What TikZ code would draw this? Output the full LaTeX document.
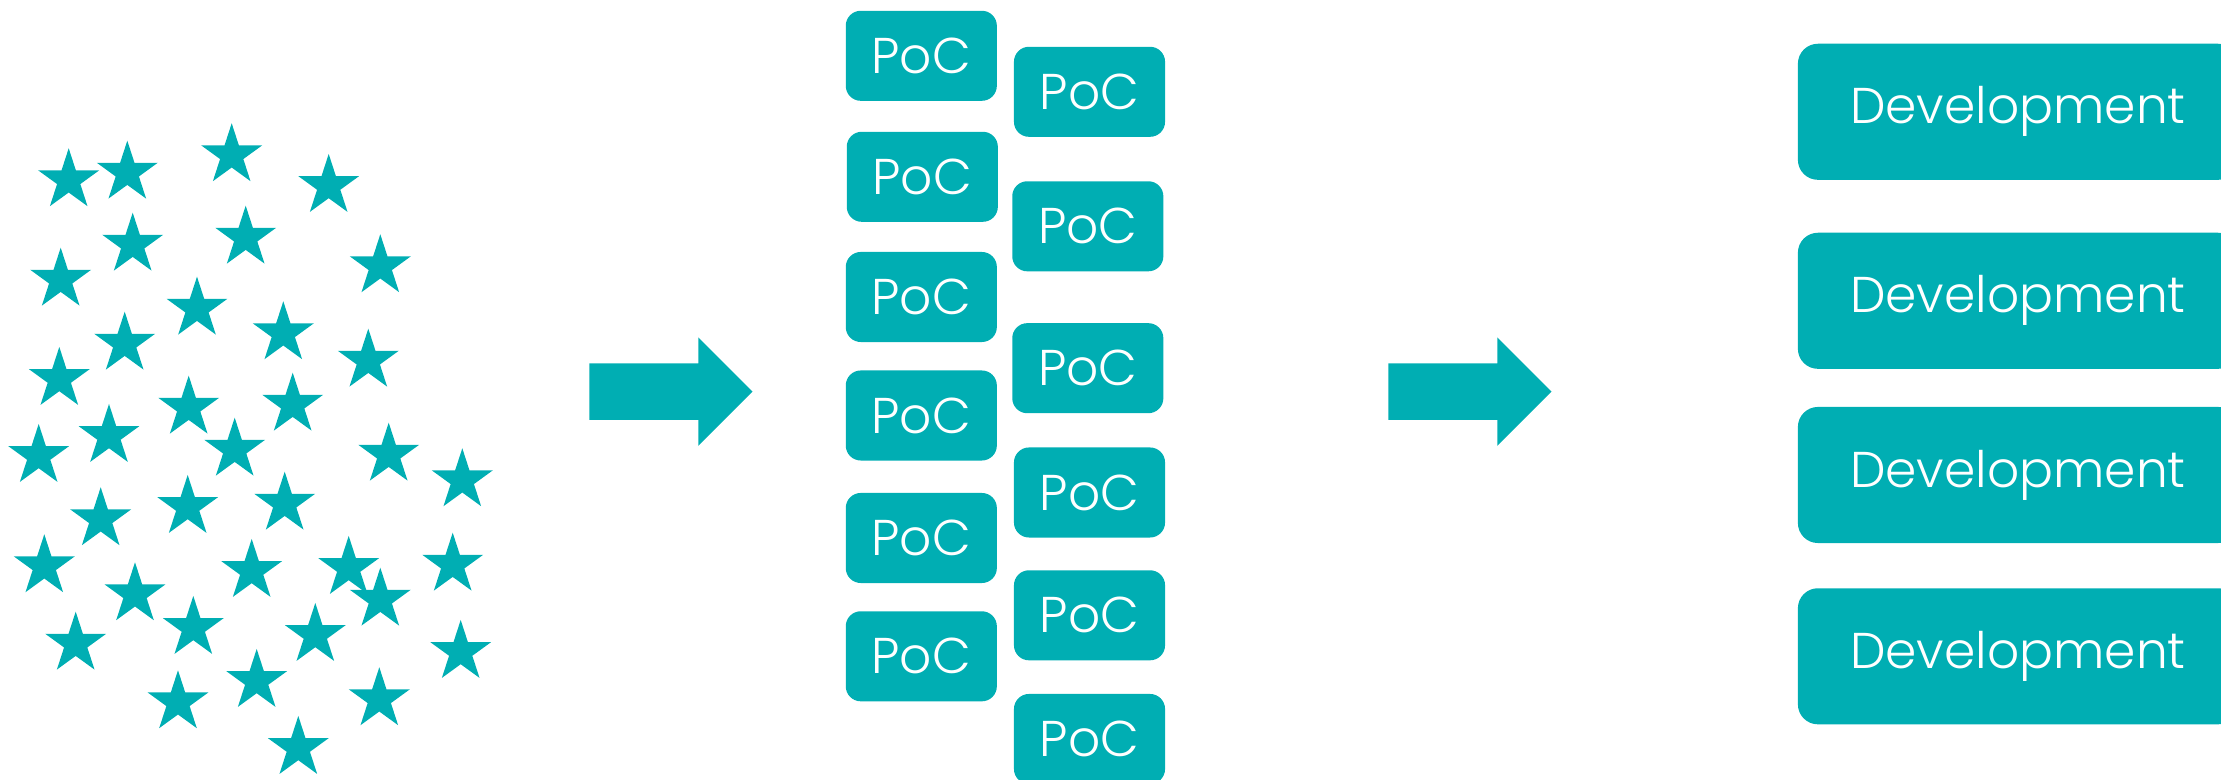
\documentclass[tikz,border=0pt]{standalone}
\usepackage{fontspec}
\setmainfont{Poppins}[UprightFont=* Light]
\usetikzlibrary{shapes.geometric,shapes.arrows,positioning}
\definecolor{pocteal}{HTML}{00AEB3}
\tikzset{
  idea/.style={star, star points=5, star point ratio=2.618, minimum size=0.64cm, inner sep=0pt, fill=pocteal, draw=none},
  poc/.style={rectangle, rounded corners=1.5mm, minimum width=1.51cm, minimum height=0.9cm, align=center, fill=pocteal, text=white, font=\fontsize{14.3}{16}\selectfont},
  devbox/.style={rectangle, rounded corners=2mm, minimum width=4.40cm, minimum height=1.36cm, align=center, fill=pocteal, text=white, font=\fontsize{14.3}{16}\selectfont},
  bigarrow/.style={single arrow, single arrow tip angle=90, single arrow head extend=0.26cm, single arrow head indent=0pt, minimum height=1.63cm, inner xsep=0pt, inner ysep=0.275cm, fill=pocteal, draw=none, anchor=tail},
}
\begin{document}
\begin{tikzpicture}[x=0.01cm, y=-0.01cm]
  \useasboundingbox (0,0) rectangle (2221,780);
  % the cloud of ideas
  \foreach \x/\y [count=\i] in {68.7/180.3, 127.3/172.7, 231.7/155.3, 328.7/186, 132.7/244.7,
      245.7/237.7, 60.7/279.7, 380.3/266.3, 197/308.7, 283.3/333.3, 124.7/343.7,
      368.3/360.7, 59.3/379, 188.7/407.7, 292.7/404.7, 109/436, 38.7/456,
      234.7/449.7, 388.7/454.7, 462.3/480.3, 100.7/519.3, 187.7/507, 284.7/503.7,
      44.3/566.3, 251.7/571, 348.7/568, 452.7/564.7, 135/594.3, 380.3/599.7,
      193.3/628, 315.3/635, 75.7/643.7, 460.7/652, 256.7/681, 178/702.3,
      379.3/699.3, 298.3/748}
    \node[idea] (star\i) at (\x,\y) {};

  \node[bigarrow] (pick) at (588.7,391.7) {};

  % proofs of concept
  \node[poc] (pocA) at (921.3,55.8) {PoC};
  \node[poc] (pocB) at (922.3,176.8) {PoC};
  \node[poc] (pocC) at (921.3,297) {PoC};
  \node[poc] (pocD) at (921.3,415.5) {PoC};
  \node[poc] (pocE) at (921.3,538) {PoC};
  \node[poc] (pocF) at (921.3,656.3) {PoC};
  \node[poc] (pocG) at (1089.5,91.8) {PoC};
  \node[poc] (pocH) at (1087.8,226.3) {PoC};
  \node[poc] (pocI) at (1087.8,368.2) {PoC};
  \node[poc] (pocJ) at (1089.5,492.5) {PoC};
  \node[poc] (pocK) at (1089.5,615.3) {PoC};
  \node[poc] (pocL) at (1089.5,739) {PoC};

  \node[bigarrow] (select) at (1387.7,391.7) {};

  % what goes on
  \node[devbox] (devA) at (2018,111.8) {Development};
  \node[devbox] (devB) at (2018,300.8) {Development};
  \node[devbox] (devC) at (2018,475) {Development};
  \node[devbox] (devD) at (2018,656.3) {Development};
\end{tikzpicture}
\end{document}
